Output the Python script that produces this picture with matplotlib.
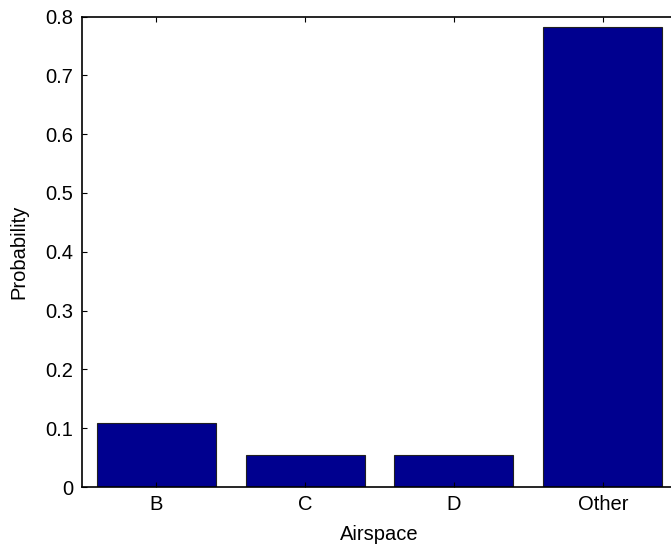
import numpy as np
import matplotlib
matplotlib.use("Agg")
import matplotlib.pyplot as plt

plt.rcParams['font.family'] = ['Liberation Sans', 'DejaVu Sans']

categories = ['B', 'C', 'D', 'Other']
probability = [0.109, 0.0545, 0.0545, 0.782]

fig = plt.figure(figsize=(6.71, 5.45), dpi=100)
ax = fig.add_axes([0.1222, 0.1064, 0.887, 0.8633])

x = np.arange(1, len(categories) + 1)
ax.bar(x, probability, width=0.8, color='#00008F', edgecolor='#202020', linewidth=0.8)

ax.set_xlim(0.5, 4.5)
ax.set_ylim(0, 0.8)
ax.set_xticks(x)
ax.set_xticklabels(categories)
ax.set_yticks(np.arange(0, 0.81, 0.1))
ax.set_yticklabels(['0', '0.1', '0.2', '0.3', '0.4', '0.5', '0.6', '0.7', '0.8'])
ax.tick_params(direction='in', top=True, right=False, length=3.6, width=0.8,
               labelsize=14.5)
ax.tick_params(axis='x', pad=5.5)
ax.tick_params(axis='y', pad=6.5)
for s in ax.spines.values():
    s.set_linewidth(1.2)

ax.set_xlabel('Airspace', fontsize=14.5, labelpad=8)
ax.set_ylabel('Probability', fontsize=14.5, labelpad=12)

fig.savefig('out.png', dpi=100)
